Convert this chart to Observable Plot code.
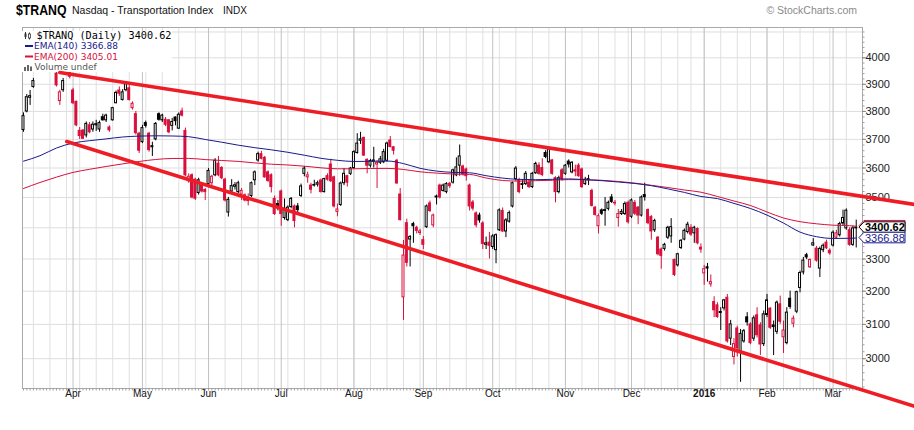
<!DOCTYPE html>
<html><head><meta charset="utf-8">
<script src="https://cdn.jsdelivr.net/npm/d3@7"></script>
<script src="https://cdn.jsdelivr.net/npm/@observablehq/plot@0.6"></script>
<style>
html,body{margin:0;padding:0;background:#fff;}
body{width:914px;height:430px;overflow:hidden;font-family:"Liberation Sans",Arial,sans-serif;}
#title{position:relative;height:20px;width:914px;}
#title span{position:absolute;white-space:nowrap;}
</style></head><body>
<div id="title">
  <span style="left:16px;top:1px;font:bold 15px 'Liberation Sans',Arial,sans-serif;transform:scaleX(0.82);transform-origin:left top;">$TRANQ</span>
  <span style="left:72px;top:4px;font:10.5px 'Liberation Sans',Arial,sans-serif;color:#111;">Nasdaq - Transportation Index</span>
  <span style="left:223px;top:5px;font:10px 'Liberation Sans',Arial,sans-serif;color:#111;">INDX</span>
  <span style="right:57px;top:4px;font:10.5px 'Liberation Sans',Arial,sans-serif;color:#8a8a8a;">© StockCharts.com</span>
</div>
<div id="chart"></div>
<script>
// ---- data (daily OHLC, 2015-03-11 .. 2016-03-10) ----
const opens = [
3733,3800,3850,3890,3958,3975,3970,3990,3972,3985,
3940,3838,3878,3950,3945,3877,3835,3730,3731,3714,
3750,3735,3750,3735,3779,3768,3742,3768,3830,3877,
3842,3878,3885,3812,3790,3720,3690,3758,3720,3672,
3700,3790,3768,3770,3768,3748,3778,3738,3800,3730,
3555,3575,3560,3515,3540,3525,3545,3548,3575,3615,
3600,3560,3450,3520,3536,3518,3510,3507,3497,3505,
3558,3626,3648,3635,3585,3575,3495,3478,3520,3432,
3425,3468,3470,3470,3505,3580,3568,3540,3540,3543,
3557,3518,3572,3612,3568,3452,3475,3548,3572,3580,
3600,3652,3695,3705,3628,3608,3622,3612,3618,3620,
3625,3696,3672,3625,3510,3181,3415,3362,3412,3400,
3383,3360,3402,3480,3408,3500,3540,3522,3518,3546,
3550,3575,3608,3605,3595,3540,3483,3447,3440,3414,
3345,3352,3338,3328,3392,3455,3388,3420,3470,3562,
3557,3542,3545,3550,3535,3582,3608,3600,3652,3620,
3626,3565,3518,3592,3580,3622,3585,3592,3608,3595,
3545,3558,3522,3466,3405,3457,3455,3462,3500,3482,
3432,3445,3445,3482,3436,3482,3466,3440,3508,3458,
3435,3392,3368,3330,3332,3368,3372,3297,3280,3335,
3362,3386,3400,3382,3396,3336,3255,3274,3221,3167,
3157,3134,3148,3180,3058,3005,3088,3020,3050,3121,
3100,3058,3127,3097,3042,3128,3147,3097,3078,3160,
3062,3045,3177,3102,3138,3210,3258,3312,3274,3343,
3333,3270,3328,3352,3326,3343,3368,3376,3414,3398,
3392,3345,3398];
const highs = [
3795,3862,3877,3922,3985,3995,4000,4010,3990,3998,
3948,3878,3922,3975,3950,3885,3838,3742,3735,3762,
3760,3762,3768,3765,3790,3790,3748,3815,3875,3890,
3880,3910,3895,3835,3800,3725,3750,3765,3725,3690,
3760,3795,3790,3778,3770,3775,3780,3795,3812,3740,
3580,3580,3565,3565,3545,3530,3598,3575,3632,3640,
3605,3565,3500,3560,3550,3555,3530,3512,3512,3552,
3590,3655,3658,3640,3590,3580,3505,3490,3525,3495,
3472,3500,3475,3480,3545,3605,3586,3548,3558,3555,
3562,3565,3580,3630,3572,3478,3552,3598,3575,3602,
3660,3720,3725,3708,3632,3630,3672,3625,3640,3665,
3690,3710,3675,3630,3530,3359,3428,3375,3418,3405,
3395,3372,3475,3488,3445,3508,3545,3545,3550,3550,
3596,3635,3680,3610,3600,3545,3490,3452,3448,3420,
3370,3385,3378,3380,3462,3465,3430,3455,3552,3605,
3565,3557,3588,3560,3585,3620,3618,3632,3660,3672,
3630,3570,3572,3598,3612,3628,3622,3610,3615,3600,
3568,3575,3528,3470,3445,3462,3500,3488,3510,3490,
3460,3460,3485,3488,3495,3490,3470,3505,3548,3462,
3440,3428,3372,3335,3350,3405,3430,3300,3318,3362,
3396,3418,3410,3405,3400,3348,3280,3286,3250,3183,
3165,3150,3175,3190,3112,3058,3095,3085,3085,3135,
3105,3125,3150,3105,3140,3190,3150,3110,3170,3185,
3110,3150,3200,3125,3200,3262,3305,3318,3300,3365,
3340,3338,3348,3360,3332,3390,3392,3418,3458,3462,
3400,3405,3425];
const lows = [
3725,3795,3822,3885,3955,3960,3962,3970,3958,3960,
3890,3822,3870,3946,3920,3825,3745,3700,3700,3705,
3720,3725,3728,3725,3765,3760,3725,3765,3828,3855,
3838,3872,3838,3805,3715,3650,3685,3740,3655,3640,
3695,3765,3760,3745,3720,3730,3748,3735,3780,3570,
3548,3495,3490,3508,3515,3490,3540,3540,3570,3570,
3560,3485,3435,3515,3525,3512,3490,3485,3472,3500,
3540,3620,3628,3565,3550,3515,3440,3455,3405,3425,
3420,3462,3400,3450,3500,3570,3548,3512,3535,3535,
3515,3515,3555,3550,3465,3436,3470,3540,3535,3574,
3595,3648,3682,3640,3580,3600,3600,3530,3612,3615,
3620,3670,3645,3545,3422,3112,3275,3275,3350,3380,
3375,3330,3398,3450,3400,3475,3495,3518,3512,3530,
3545,3570,3572,3572,3555,3455,3455,3400,3415,3330,
3330,3300,3330,3285,3388,3385,3368,3415,3465,3555,
3512,3527,3540,3530,3530,3578,3575,3570,3632,3615,
3575,3482,3512,3555,3575,3600,3580,3570,3568,3530,
3540,3540,3468,3438,3380,3440,3405,3455,3480,3472,
3402,3440,3440,3412,3430,3440,3410,3435,3488,3410,
3360,3385,3310,3268,3325,3362,3350,3245,3275,3330,
3358,3380,3372,3350,3345,3318,3218,3228,3212,3120,
3118,3082,3140,3045,3038,2982,3005,2933,3045,3095,
3040,3050,3060,3009,3035,3120,3085,3009,3070,3100,
3015,3040,3145,3090,3132,3195,3250,3298,3270,3340,
3290,3242,3320,3330,3312,3338,3362,3370,3405,3392,
3340,3340,3335];
const closes = [
3783,3852,3856,3912,3978,3968,3992,3975,3985,3965,
3896,3870,3912,3962,3928,3830,3750,3712,3702,3755,
3725,3752,3754,3758,3768,3785,3732,3812,3868,3865,
3870,3900,3842,3828,3722,3660,3740,3748,3662,3676,
3755,3770,3785,3752,3725,3762,3765,3788,3785,3575,
3570,3500,3496,3558,3520,3518,3590,3570,3625,3575,
3565,3490,3492,3538,3541,3548,3522,3490,3488,3548,
3585,3648,3632,3568,3556,3535,3445,3468,3445,3462,
3466,3495,3422,3458,3537,3598,3575,3526,3542,3548,
3518,3562,3560,3555,3470,3460,3547,3580,3550,3598,
3655,3685,3700,3643,3608,3624,3626,3618,3630,3655,
3685,3673,3660,3547,3425,3311,3288,3370,3405,3390,
3388,3345,3470,3455,3440,3503,3500,3540,3545,3538,
3592,3602,3640,3578,3572,3470,3463,3408,3424,3348,
3350,3342,3372,3376,3457,3388,3424,3448,3548,3598,
3518,3545,3580,3535,3580,3614,3580,3576,3638,3665,
3580,3518,3565,3562,3608,3612,3618,3588,3572,3535,
3560,3562,3472,3442,3438,3446,3458,3482,3485,3480,
3445,3452,3478,3418,3490,3446,3440,3500,3501,3415,
3388,3422,3315,3310,3345,3400,3402,3250,3315,3358,
3390,3410,3378,3400,3350,3330,3268,3270,3228,3142,
3122,3137,3172,3050,3100,3042,3030,3072,3080,3106,
3045,3118,3068,3041,3130,3172,3090,3092,3165,3108,
3082,3135,3152,3117,3197,3256,3295,3305,3297,3350,
3295,3332,3342,3334,3318,3384,3382,3412,3432,3456,
3345,3398,3400.62];

// EMA readings, one every 5 trading days plus the last day
const ema140 = [3623.5,3642.6,3669.5,3687.1,3695.2,3701.6,3708.3,3711.5,3712.6,3711.9,
3709.4,3699.5,3689.9,3679.4,3670.6,3663.2,3654.5,3644.3,3633.6,3626.6,
3622.5,3623.2,3624.2,3615.2,3599.0,3589.4,3584.9,3583.5,3573.6,3565.4,
3561.0,3560.0,3561.3,3562.7,3560.0,3556.6,3552.2,3547.1,3539.6,3528.8,
3517.0,3503.3,3496.2,3480.2,3463.3,3441.5,3415.3,3386.0,3371.2,3365.5,
3366.0,3366.88];
const ema200 = [3530.2,3550.5,3568.8,3584.9,3595.6,3605.2,3614.2,3622.5,3629.4,3632.9,
3633.2,3629.1,3625.9,3622.8,3617.6,3613.1,3610.4,3606.2,3600.7,3597.3,
3597.3,3598.3,3598.7,3594.9,3587.0,3582.5,3579.4,3578.0,3565.8,3557.3,
3555.2,3556.6,3557.9,3560.3,3560.0,3557.9,3553.9,3548.4,3541.0,3533.5,
3525.1,3517.7,3503.3,3488.2,3473.2,3451.7,3432.0,3419.9,3413.0,3408.4,
3406.8,3405.01];

// hand-drawn trendlines (trading-day position, price)
const upperTrendDay = [10.97, 269.8], upperTrendVal = [3944.2, 3476.6];
const lowerTrendDay = [13.09, 269.8], lowerTrendVal = [3692.4, 2866.2];

const monthLabels = ["Apr","May","Jun","Jul","Aug","Sep","Oct","Nov","Dec","2016","Feb","Mar"];
const yTickValues = [3000,3100,3200,3300,3400,3500,3600,3700,3800,3900,4000];
// the 3400 label is covered by the last-price tag in the reference
const yTickLabels = ["3000","3100","3200","3300","","3500","3600","3700","3800","3900","4000"];
const yGridValues = [3000,3100,3200,3300,3400,3500,3600,3700,3800,3900,4000,4100];

const lastClose = 3400.62, lastEma140 = 3366.88, lastEma200 = 3405.01;

// ---- trading calendar ----
const holidays = new Set(["2015-04-03","2015-05-25","2015-07-03","2015-09-07","2015-11-26","2015-12-25","2016-01-01","2016-01-18","2016-02-15"]);
const days = [];
for (let d = new Date(Date.UTC(2015,2,11)); days.length < closes.length; d = new Date(d.getTime()+86400000)) {
  const wd = d.getUTCDay(); const s = d.toISOString().slice(0,10);
  if (wd === 0 || wd === 6 || holidays.has(s)) continue;
  days.push(d);
}
const weekStarts = [], monthStarts = [];
for (let k = 1; k < days.length; k++) {
  if (days[k].getUTCDay() < days[k-1].getUTCDay()) weekStarts.push(k);
  if (days[k].getUTCMonth() !== days[k-1].getUTCMonth()) monthStarts.push(k);
}
const monthTicks = monthStarts.map((k, j) => ({k, label: monthLabels[j]}));
const yTicks = yTickValues.map((v, j) => ({v, label: yTickLabels[j]})).filter(d => d.label);

const RED = "#d8103c", BLK = "#000000";
const candles = closes.map((c, k) => {
  const prev = k > 0 ? closes[k-1] : c;
  const color = c < prev ? RED : BLK;
  return {k, open: opens[k], high: highs[k], low: lows[k], close: c, color, fill: c < opens[k] ? color : "#ffffff"};
});
const emaRows = ema140.map((v, j) => ({k: j < 51 ? j*5 : closes.length-1, e140: v, e200: ema200[j]}));
const upperTrend = upperTrendDay.map((k, j) => ({k, v: upperTrendVal[j]}));
const lowerTrend = lowerTrendDay.map((k, j) => ({k, v: lowerTrendVal[j]}));
const minorY = d3.range(2920, 4120, 20);

const FRAME_H = 361, FRAME_W = 840;

function legendMark() {
  const g = d3.create("svg:g").attr("text-anchor", "start");
  g.append("rect").attr("x", 22).attr("y", 11).attr("width", 150).attr("height", 41).attr("fill", "#fff");
  // candle icon
  g.append("line").attr("x1", 25.5).attr("x2", 25.5).attr("y1", 12).attr("y2", 19).attr("stroke", "#333");
  g.append("rect").attr("x", 24.5).attr("y", 13.5).attr("width", 2).attr("height", 3.5).attr("fill", "#333");
  g.append("line").attr("x1", 29.5).attr("x2", 29.5).attr("y1", 12.5).attr("y2", 19.5).attr("stroke", "#333");
  g.append("rect").attr("x", 28.5).attr("y", 14).attr("width", 2).attr("height", 4).attr("fill", "#fff").attr("stroke", "#333").attr("stroke-width", 0.8);
  g.append("text").attr("x", 36.5).attr("y", 19).attr("font-family", "'DejaVu Sans Mono',monospace").attr("font-size", 10.2).attr("fill", "#000").text("$TRANQ (Daily) " + lastClose.toFixed(2));
  g.append("line").attr("x1", 25).attr("x2", 33).attr("y1", 26).attr("y2", 26).attr("stroke", "#1a1a8c").attr("stroke-width", 2);
  g.append("text").attr("x", 34).attr("y", 29).attr("font-family", "'DejaVu Sans',sans-serif").attr("font-size", 9).attr("fill", "#1a1a8c").text("EMA(140) " + lastEma140.toFixed(2));
  g.append("line").attr("x1", 25).attr("x2", 33).attr("y1", 36.5).attr("y2", 36.5).attr("stroke", RED).attr("stroke-width", 2);
  g.append("text").attr("x", 34).attr("y", 39.5).attr("font-family", "'DejaVu Sans',sans-serif").attr("font-size", 9).attr("fill", RED).text("EMA(200) " + lastEma200.toFixed(2));
  [[24,47,2,4],[27,45,2,6],[30,46.5,2,4.5]].forEach(([x,y,w,h]) => g.append("rect").attr("x", x).attr("y", y).attr("width", w).attr("height", h).attr("fill", "#666"));
  g.append("text").attr("x", 34.5).attr("y", 50).attr("font-family", "'DejaVu Sans',sans-serif").attr("font-size", 9).attr("fill", "#555").text("Volume undef");
  return g.node();
}

function priceLabels(index, scales) {
  const g = d3.create("svg:g").attr("text-anchor", "start");
  // EMA(200) tag sits underneath the price tag; only its red border peeks out
  const items = [
    {v: lastEma200, text: null, stroke: RED, fill: RED, weight: "normal"},
    {v: lastClose, text: lastClose.toFixed(2), stroke: "#000", fill: "#000", weight: "bold"},
    {v: lastEma140, text: lastEma140.toFixed(2), stroke: "#1a1a8c", fill: "#1a1a8c", weight: "normal"}
  ];
  for (const it of items) {
    const cy = scales.y(it.v);
    g.append("path").attr("d", `M859,${cy} L864,${cy-5.3} L905,${cy-5.3} L905,${cy+5.3} L864,${cy+5.3} Z`)
      .attr("fill", "#fff").attr("stroke", it.stroke).attr("stroke-width", 1);
    if (it.text) g.append("text").attr("x", 865).attr("y", cy + 4).attr("font-family", "'Liberation Sans',Arial,sans-serif")
      .attr("font-size", 11).attr("font-weight", it.weight).attr("fill", it.fill).text(it.text);
  }
  return g.node();
}

const plot = Plot.plot({
  width: 914,
  height: 410,
  marginTop: 7,
  marginBottom: 42,
  marginLeft: 22,
  marginRight: 52,
  x: {type: "linear", domain: [-0.3, 253.9], axis: null},
  y: {type: "log", domain: [2915.7, 4117.6], axis: null},
  color: {type: "identity"},
  style: {background: "#fff", overflow: "visible", fontFamily: "'Liberation Sans',Arial,sans-serif"},
  marks: [
    Plot.ruleY(yGridValues, {y: d => d, stroke: "#dedede", strokeWidth: 1}),
    Plot.ruleX(weekStarts, {x: d => d, stroke: "#e0e0e0", strokeWidth: 1}),
    Plot.ruleX(monthStarts, {x: d => d, stroke: "#c3c3c3", strokeWidth: 1}),
    Plot.frame({stroke: "#a9a9a9"}),
    Plot.ruleX(candles, {x: "k", insetTop: FRAME_H, insetBottom: -2.5, stroke: "#a0a0a0", strokeWidth: 1}),
    Plot.ruleY(minorY, {y: d => d, insetLeft: FRAME_W, insetRight: -2.5, stroke: "#a0a0a0", strokeWidth: 1}),
    Plot.ruleY(yTickValues, {y: d => d, insetLeft: FRAME_W, insetRight: -4, stroke: "#888", strokeWidth: 1}),
    Plot.text(yTicks, {y: "v", text: "label", frameAnchor: "right", dx: 3, textAnchor: "start", fontSize: 11, fill: "#222"}),
    Plot.text(monthTicks.filter(d => d.label !== "2016"), {x: "k", text: "label", frameAnchor: "bottom", dy: 8, fontSize: 10, fill: "#111"}),
    Plot.text(monthTicks.filter(d => d.label === "2016"), {x: "k", text: "label", frameAnchor: "bottom", dy: 8, fontSize: 10, fontWeight: "bold", fill: "#111"}),
    // candlesticks
    Plot.ruleX(candles, {x: "k", y1: "low", y2: "high", stroke: "color", strokeWidth: 1}),
    Plot.rect(candles, {x1: d => d.k - 0.3, x2: d => d.k + 0.3, y1: "open", y2: "close", fill: "fill", stroke: "color", strokeWidth: 1}),
    // moving averages
    Plot.line(emaRows, {x: "k", y: "e200", stroke: RED, strokeWidth: 1, curve: "monotone-x"}),
    Plot.line(emaRows, {x: "k", y: "e140", stroke: "#1a1a8c", strokeWidth: 1, curve: "monotone-x"}),
    legendMark,
    // trendlines
    Plot.line(upperTrend, {x: "k", y: "v", stroke: "#ee1c25", strokeWidth: 3.6}),
    Plot.line(lowerTrend, {x: "k", y: "v", stroke: "#ee1c25", strokeWidth: 3.6}),
    priceLabels
  ]
});
document.getElementById("chart").appendChild(plot);
</script>
</body></html>
